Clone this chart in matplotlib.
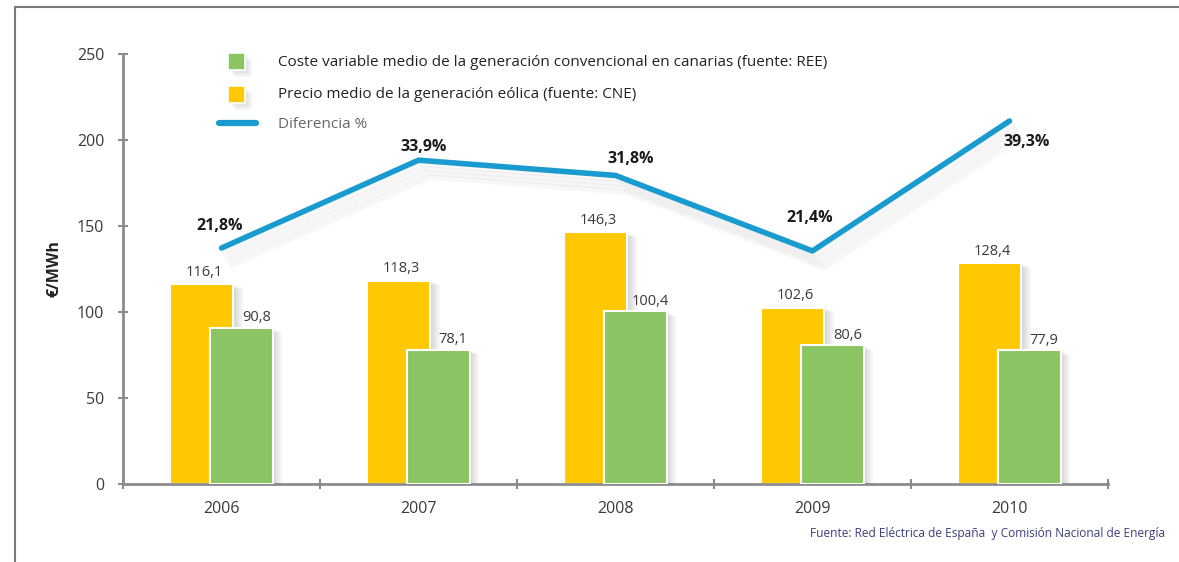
import matplotlib.pyplot as plt
import matplotlib.patheffects as pe
from matplotlib.patches import Rectangle
from matplotlib.lines import Line2D
import numpy as np

plt.rcParams['font.family'] = ['Open Sans', 'DejaVu Sans']

years = ['2006', '2007', '2008', '2009', '2010']
precio_eolica = [116.1, 118.3, 146.3, 102.6, 128.4]
coste_convencional = [90.8, 78.1, 100.4, 80.6, 77.9]
diferencia = [21.8, 33.9, 31.8, 21.4, 39.3]

bar_labels_eolica = ['116,1', '118,3', '146,3', '102,6', '128,4']
bar_labels_conv = ['90,8', '78,1', '100,4', '80,6', '77,9']
pct_labels = ['21,8%', '33,9%', '31,8%', '21,4%', '39,3%']
# offsets (pixels) of the bold % labels from their line points
pct_offsets = [(-2, 22), (5, 13), (15, 16), (-3, 33), (17, -21)]

yellow = '#FFC800'
green = '#8BC462'
blue = '#1A9BCF'
axis_grey = '#8c8c8c'
text_grey = '#3a3a3a'

W, H = 1179, 562
fig = plt.figure(figsize=(W / 100, H / 100), dpi=100)
ax = fig.add_axes([123 / W, (H - 484) / H, (1108 - 123) / W, (484 - 54) / H])


def soft_shadow(dx, dy, alpha):
    # a few stacked shadows to fake a blurred drop shadow
    fx_list = []
    for k in range(1, 6):
        fx_list.append(pe.SimplePatchShadow(offset=(dx * k / 3, -dy * k / 3),
                                            shadow_rgbFace='#555555', alpha=alpha))
    return fx_list + [pe.Normal()]


x = np.arange(len(years))
bw = 0.32

b1 = ax.bar(x - 0.1, precio_eolica, bw, color=yellow, edgecolor='white', linewidth=1.5, zorder=2)
b2 = ax.bar(x + 0.1, coste_convencional, bw, color=green, edgecolor='white', linewidth=1.5, zorder=3)
for b in list(b1) + list(b2):
    b.set_path_effects(soft_shadow(4, 2, 0.05))

for xi, v, lab in zip(x, precio_eolica, bar_labels_eolica):
    ax.annotate(lab, (xi - 0.1, v), xytext=(2, 12), textcoords='offset pixels',
                ha='center', va='center', fontsize=10.5, color=text_grey)
for xi, v, lab in zip(x, coste_convencional, bar_labels_conv):
    ax.annotate(lab, (xi + 0.1, v), xytext=(15, 10), textcoords='offset pixels',
                ha='center', va='center', fontsize=10.5, color=text_grey)

ax.set_xlim(-0.5, 4.5)
ax.set_ylim(0, 250)
ax.set_yticks([0, 50, 100, 150, 200, 250])
ax.set_xticks(x)
ax.set_xticklabels(years)
ax.set_xticks(np.arange(-0.5, 5.0, 1.0), minor=True)
ax.tick_params(axis='x', which='major', length=0, pad=12, labelsize=11.5, labelcolor=text_grey)
ax.tick_params(axis='x', which='minor', length=7, width=1.5, direction='inout', color=axis_grey)
ax.tick_params(axis='y', length=7, width=1.5, direction='inout', color=axis_grey,
               pad=10, labelsize=11.5, labelcolor=text_grey)
for s in ['top', 'right']:
    ax.spines[s].set_visible(False)
for s in ['left', 'bottom']:
    ax.spines[s].set_color(axis_grey)
    ax.spines[s].set_linewidth(2)
ax.set_ylabel('€/MWh', fontsize=11.5, fontweight='bold', color='#222222', labelpad=10)

ax2 = ax.twinx()
ax2.set_ylim(-10.71, 48.53)
ax2.axis('off')
line_shadow = [pe.SimpleLineShadow(offset=(2 * k, -3 * k), shadow_color='#777777', alpha=0.06)
               for k in range(1, 5)]
ax2.plot(x, diferencia, color=blue, linewidth=4, solid_capstyle='round',
         path_effects=line_shadow + [pe.Normal()])
for xi, v, lab, off in zip(x, diferencia, pct_labels, pct_offsets):
    ax2.annotate(lab, (xi, v), xytext=off, textcoords='offset pixels',
                 ha='center', va='center', fontsize=11.5, fontweight='bold', color='#1a1a1a')


# legend drawn by hand
def fx(px):
    return px / W


def fy(py):
    return (H - py) / H


fig.add_artist(Rectangle((fx(228), fy(70)), 17 / W, 17 / H, transform=fig.transFigure,
                         facecolor=green, edgecolor='white', linewidth=1.2,
                         path_effects=soft_shadow(3, 3, 0.04)))
fig.add_artist(Rectangle((fx(228), fy(103)), 17 / W, 17 / H, transform=fig.transFigure,
                         facecolor=yellow, edgecolor='white', linewidth=1.2,
                         path_effects=soft_shadow(3, 3, 0.04)))
fig.add_artist(Line2D([fx(219), fx(256)], [fy(123), fy(123)], transform=fig.transFigure,
                      color=blue, linewidth=4.5, solid_capstyle='round'))
fig.text(fx(278), fy(62), 'Coste variable medio de la generación convencional en canarias (fuente: REE)',
         fontsize=11, color='#222222', va='center')
fig.text(fx(278), fy(95), 'Precio medio de la generación eólica (fuente: CNE)',
         fontsize=11, color='#222222', va='center')
fig.text(fx(278), fy(124), 'Diferencia %', fontsize=11, color='#666666', va='center')

fig.text(fx(1165), fy(533), 'Fuente: Red Eléctrica de España  y Comisión Nacional de Energía',
         fontsize=8.6, color='#3d3d80', ha='right', va='center')

# outer frame (top and left edges only visible)
fig.add_artist(Line2D([fx(15), 1], [fy(7), fy(7)], transform=fig.transFigure, color='#7a7a7a', linewidth=1.5))
fig.add_artist(Line2D([fx(15), fx(15)], [fy(7), 0], transform=fig.transFigure, color='#7a7a7a', linewidth=1.5))

fig.savefig('out.png', dpi=100)
